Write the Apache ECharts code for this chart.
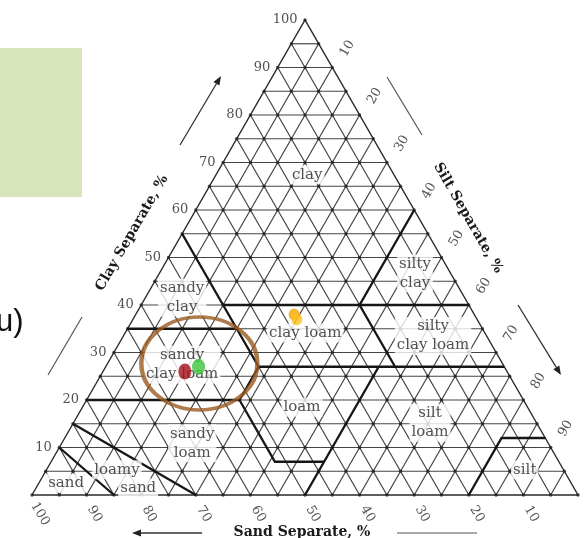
<!DOCTYPE html>
<html>
<head>
<meta charset="utf-8">
<script src="https://cdn.jsdelivr.net/npm/echarts/dist/echarts.min.js"></script>
<style>
html, body { margin: 0; padding: 0; background: #ffffff; }
#chart { width: 587px; height: 538px; }
</style>
</head>
<body>
<div id="chart"></div>
<script>
// USDA soil texture triangle. Every ternary point is [sand, silt, clay] in percent.

const gridStep = 5;
const clayTicks = [10, 20, 30, 40, 50, 60, 70, 80, 90, 100];
const siltTicks = [10, 20, 30, 40, 50, 60, 70, 80, 90];
const sandTicks = [100, 90, 80, 70, 60, 50, 40, 30, 20, 10];

// Texture class boundaries (polylines)
const classBoundaries = [
  [[45, 0, 55], [45, 15, 40], [45, 20, 35], [45, 28, 27]],
  [[45, 15, 40], [20, 40, 40], [0, 60, 40]],
  [[0, 40, 60], [20, 40, 40], [20, 53, 27]],
  [[65, 0, 35], [45, 20, 35]],
  [[45, 28, 27], [23, 50, 27], [0, 73, 27]],
  [[80, 0, 20], [52, 28, 20], [45, 28, 27]],
  [[52, 28, 20], [52, 41, 7], [43, 50, 7]],
  [[23, 50, 27], [43, 50, 7], [50, 50, 0]],
  [[0, 88, 12], [8, 80, 12], [20, 80, 0]],
  [[90, 0, 10], [85, 15, 0]],
  [[85, 0, 15], [70, 30, 0]]
];

// Texture class names and where they are written
const classNames = ['clay', 'silty\nclay', 'sandy\nclay', 'clay loam', 'silty\nclay loam',
  'sandy\nclay loam', 'loam', 'silt\nloam', 'silt', 'sandy\nloam', 'loamy', 'sand', 'sand'];
const classAnchors = [
  [15.9, 16.7, 67.4], [6.5, 46.8, 46.7], [51.7, 6.7, 41.6], [32.9, 33.0, 34.1], [9.8, 56.7, 33.5],
  [58.8, 13.8, 27.4], [41.3, 40.2, 18.5], [19.5, 65.3, 15.2], [7.1, 87.6, 5.3], [65.2, 23.9, 10.9],
  [81.8, 12.9, 5.3], [79.8, 18.7, 1.5], [92.5, 5.0, 2.5]
];

// Soil samples
const sampleNames = ['sample 1', 'sample 2', 'sample 3', 'sample 4'];
const sampleComp = [[59, 15, 26], [56, 17, 27], [33, 29, 38], [33, 30, 37]];
const sampleColors = ['#a8101a', '#3cc53c', '#f2a400', '#ffc21a'];

// Highlighted group of samples
const highlightCenter = [55.5, 16.8, 27.7];

// ---- layout of the plotting area ----
const PLOT = { left: 32, top: 20, width: 546, height: 475 };

function tern(p) { return [p[1] + p[2] / 2, p[2]]; }
function shifted(p, dx, dy) {
  const q = tern(p);
  return [q[0] + dx * 100 / PLOT.width, q[1] - dy * 100 / PLOT.height];
}

const SERIF = 'DejaVu Serif';
const INK = '#262626';

// lattice lines every gridStep %
const lattice = [];
for (let k = gridStep; k < 100; k += gridStep) {
  lattice.push({ coords: [tern([100 - k, 0, k]), tern([0, 100 - k, k])] });
  lattice.push({ coords: [tern([100 - k, k, 0]), tern([0, k, 100 - k])] });
  lattice.push({ coords: [tern([k, 100 - k, 0]), tern([k, 0, 100 - k])] });
}
const nodes = [];
for (let c = 0; c <= 100; c += gridStep) {
  for (let s = 0; s <= 100 - c; s += gridStep) {
    nodes.push(tern([100 - c - s, s, c]));
  }
}
const outline = [{ coords: [tern([100, 0, 0]), tern([0, 100, 0]), tern([0, 0, 100]), tern([100, 0, 0])] }];

function textScatter(data, label, z) {
  return {
    type: 'scatter', silent: true, clip: false, z: z || 5,
    symbolSize: 1, itemStyle: { color: 'transparent' },
    label: Object.assign({ show: true, formatter: p => p.name, color: INK,
      fontFamily: SERIF, fontSize: 13 }, label),
    data: data
  };
}

function arrow(x1, y1, x2, y2) {
  const a = Math.atan2(y2 - y1, x2 - x1), len = 9, hw = 3.5;
  const bx = x2 - len * Math.cos(a), by = y2 - len * Math.sin(a);
  return [
    { type: 'line', shape: { x1: x1, y1: y1, x2: bx, y2: by }, style: { stroke: '#333', lineWidth: 1.3 } },
    { type: 'polygon', shape: { points: [[x2, y2],
      [bx + hw * Math.sin(a), by - hw * Math.cos(a)], [bx - hw * Math.sin(a), by + hw * Math.cos(a)]] },
      style: { fill: '#222' } }
  ];
}
function plainLine(x1, y1, x2, y2) {
  return { type: 'line', shape: { x1: x1, y1: y1, x2: x2, y2: y2 }, style: { stroke: '#555', lineWidth: 1.2 } };
}

const chart = echarts.init(document.getElementById('chart'), null, { renderer: 'canvas' });

chart.setOption({
  animation: false,
  backgroundColor: '#ffffff',
  grid: { left: PLOT.left, top: PLOT.top, width: PLOT.width, height: PLOT.height },
  xAxis: { type: 'value', min: 0, max: 100, show: false },
  yAxis: { type: 'value', min: 0, max: 100, show: false },
  graphic: [
    { type: 'rect', shape: { x: 0, y: 48, width: 82, height: 149 }, style: { fill: '#d8e4bc' }, z: 0 },
    { type: 'text', x: -4, y: 322, style: { text: 'u)', font: '31px "Liberation Sans"', fill: '#111',
      verticalAlign: 'middle' } },
    { type: 'text', x: 132, y: 233, rotation: Math.PI / 3,
      style: { text: 'Clay Separate, %', font: 'bold 14px "DejaVu Serif"', fill: '#1a1a1a',
        align: 'center', verticalAlign: 'middle' } },
    { type: 'text', x: 468, y: 218, rotation: -Math.PI / 3,
      style: { text: 'Silt Separate, %', font: 'bold 14px "DejaVu Serif"', fill: '#1a1a1a',
        align: 'center', verticalAlign: 'middle' } },
    { type: 'text', x: 302, y: 532,
      style: { text: 'Sand Separate, %', font: 'bold 14px "DejaVu Serif"', fill: '#1a1a1a',
        align: 'center', verticalAlign: 'middle' } },
    ...arrow(180, 145, 221, 76),
    ...arrow(518, 305, 561, 375),
    ...arrow(202, 533, 132, 533),
    plainLine(48, 375, 82, 317),
    plainLine(387, 77, 422, 135),
    plainLine(397, 533, 477, 533)
  ],
  series: [
    {
      type: 'lines', coordinateSystem: 'cartesian2d', polyline: true, silent: true, clip: false, z: 1,
      lineStyle: { color: '#444', width: 1.2, opacity: 1 }, data: lattice
    },
    {
      type: 'lines', coordinateSystem: 'cartesian2d', polyline: true, silent: true, clip: false, z: 1,
      lineStyle: { color: '#2a2a2a', width: 1.4, opacity: 1 }, data: outline
    },
    {
      type: 'scatter', silent: true, clip: false, z: 2, symbolSize: 3.4,
      itemStyle: { color: '#222' }, data: nodes
    },
    {
      type: 'lines', coordinateSystem: 'cartesian2d', polyline: true, silent: true, clip: false, z: 3,
      lineStyle: { color: '#161616', width: 2.3, opacity: 1 },
      data: classBoundaries.map(b => ({ coords: b.map(tern) }))
    },
    textScatter(classNames.map((n, i) => ({ name: n, value: tern(classAnchors[i]) })),
      { position: 'inside', fontSize: 15, lineHeight: 19, color: INK,
        backgroundColor: '#ffffff', padding: [0, 2] }, 4),
    textScatter(clayTicks.map(k => ({ name: String(k), value: tern([100 - k, 0, k]) })),
      { position: 'left', distance: 7 }),
    textScatter(siltTicks.map(k => ({ name: String(k), value: shifted([0, k, 100 - k], 15, -19) })),
      { position: 'inside', rotate: 60 }),
    textScatter(sandTicks.map(k => ({ name: String(k), value: shifted([k, 100 - k, 0], 8, 19) })),
      { position: 'inside', rotate: -60 }),
    {
      type: 'scatter', silent: true, clip: false, z: 6,
      symbol: 'circle', symbolSize: [116, 93],
      itemStyle: { color: 'transparent', borderColor: '#9a5a1f', borderWidth: 4 },
      data: [tern(highlightCenter)]
    },
    {
      type: 'scatter', silent: true, clip: false, z: 7,
      data: sampleComp.map((p, i) => ({
        name: sampleNames[i], value: tern(p),
        symbolSize: i < 2 ? [13, 16] : [11, 12],
        itemStyle: { color: sampleColors[i] }
      }))
    }
  ]
});
</script>
</body>
</html>
